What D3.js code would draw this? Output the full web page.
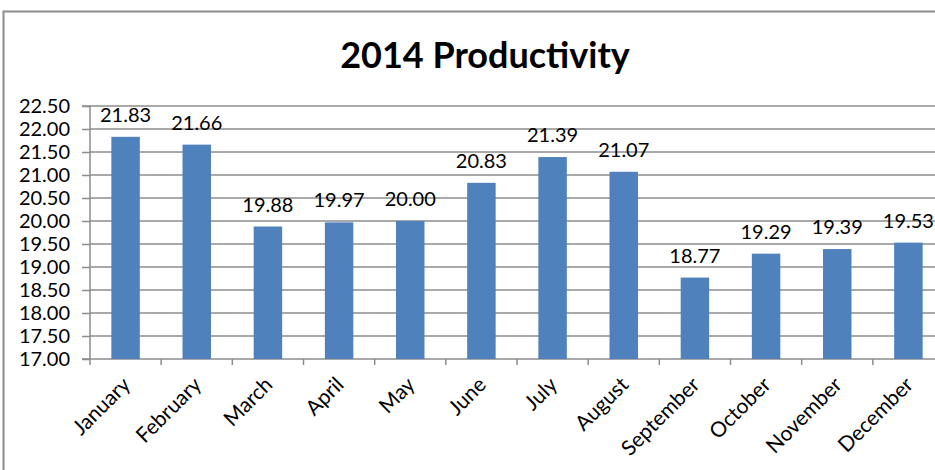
<!DOCTYPE html>
<html>
<head>
<meta charset="utf-8">
<script src="https://cdn.jsdelivr.net/npm/d3@7"></script>
<style>
  body { margin: 0; background: #fff; }
  svg { display: block; font-family: Lato, "Open Sans", sans-serif; }
</style>
</head>
<body>
<svg id="chart" width="935" height="470"></svg>
<script>
const months = ['January', 'February', 'March', 'April', 'May', 'June', 'July', 'August', 'September', 'October', 'November', 'December']
const productivity = [21.83, 21.66, 19.88, 19.97, 20.00, 20.83, 21.39, 21.07, 18.77, 19.29, 19.39, 19.53]
const yTicks = [17, 17.5, 18, 18.5, 19, 19.5, 20, 20.5, 21, 21.5, 22, 22.5]

const svg = d3.select('#chart')
const margin = { top: 106, left: 90, bottom: 359, right: 944 }

// chart frame (right/bottom edges fall outside the picture)
svg.append('path')
  .attr('d', 'M3.5,470 V11.5 H935')
  .attr('fill', 'none')
  .attr('stroke', '#8c8c8c')
  .attr('stroke-width', 2)

svg.append('text')
  .attr('x', 485)
  .attr('y', 68)
  .attr('text-anchor', 'middle')
  .attr('font-size', 36)
  .attr('font-weight', 'bold')
  .text('2014 Productivity')

const xScale = d3.scaleBand()
  .domain(months)
  .range([margin.left, margin.right])
  .paddingInner(0.6)
  .paddingOuter(0.3)

const yScale = d3.scaleLinear()
  .domain([17, 22.5])
  .range([margin.bottom, margin.top])

// gridlines
svg.append('g')
  .selectAll('line')
  .data(yTicks.slice(1))
  .join('line')
  .attr('x1', margin.left)
  .attr('x2', margin.right)
  .attr('y1', (d) => yScale(d))
  .attr('y2', (d) => yScale(d))
  .attr('stroke', '#8c8c8c')
  .attr('stroke-width', 1.5)

const yAxis = d3.axisLeft(yScale)
  .tickValues(yTicks)
  .tickFormat(d3.format('.2f'))
  .tickSize(8)
  .tickPadding(12)
svg.append('g')
  .attr('transform', `translate(${margin.left},0)`)
  .call(yAxis)
  .call((g) => g.select('.domain').attr('stroke', '#8c8c8c').attr('stroke-width', 1.5).attr('d', `M-8,${margin.top}H0V${margin.bottom}H-8`))
  .call((g) => g.selectAll('.tick line').attr('stroke', '#8c8c8c').attr('stroke-width', 1.5))
  .call((g) => g.selectAll('.tick text').attr('font-size', 20).attr('fill', '#000').attr('font-family', 'Lato, sans-serif'))

// category axis with ticks between categories
const step = xScale.step()
const boundaries = d3.range(months.length + 1).map((i) => margin.left + i * step)
svg.append('line')
  .attr('x1', margin.left)
  .attr('x2', margin.right)
  .attr('y1', margin.bottom)
  .attr('y2', margin.bottom)
  .attr('stroke', '#8c8c8c')
  .attr('stroke-width', 1.5)
svg.append('g')
  .selectAll('line')
  .data(boundaries)
  .join('line')
  .attr('x1', (d) => d)
  .attr('x2', (d) => d)
  .attr('y1', margin.bottom)
  .attr('y2', margin.bottom + 6)
  .attr('stroke', '#8c8c8c')
  .attr('stroke-width', 1.5)

svg.append('g')
  .selectAll('text')
  .data(months)
  .join('text')
  .attr('transform', (d) => `translate(${xScale(d) + xScale.bandwidth() / 2 + 6},${margin.bottom + 27}) rotate(-45)`)
  .attr('text-anchor', 'end')
  .attr('font-size', 21)
  .text((d) => d)

// bars
svg.append('g')
  .selectAll('rect')
  .data(productivity)
  .join('rect')
  .attr('x', (d, i) => xScale(months[i]))
  .attr('y', (d) => yScale(d))
  .attr('width', xScale.bandwidth())
  .attr('height', (d) => margin.bottom - yScale(d))
  .attr('fill', '#4f81bd')

// value labels
svg.append('g')
  .selectAll('text')
  .data(productivity)
  .join('text')
  .attr('x', (d, i) => xScale(months[i]) + xScale.bandwidth() / 2)
  .attr('y', (d) => yScale(d) - 15)
  .attr('text-anchor', 'middle')
  .attr('font-size', 20)
  .text((d) => d.toFixed(2))
</script>
</body>
</html>
